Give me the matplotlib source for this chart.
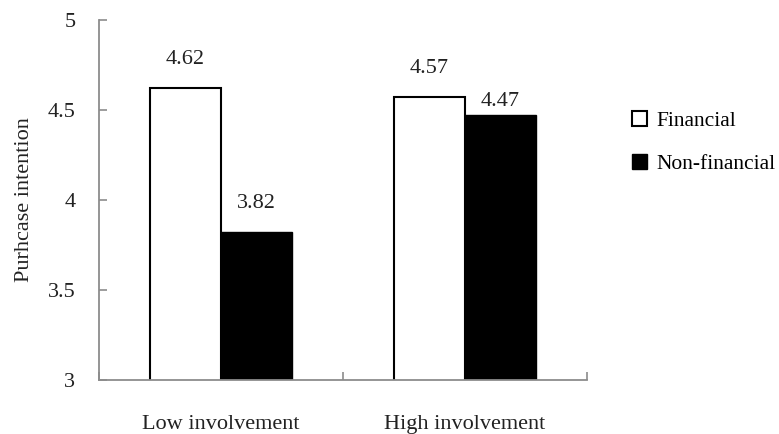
import numpy as np
import matplotlib
matplotlib.use("Agg")
import matplotlib.pyplot as plt
from matplotlib.patches import Patch

plt.rcParams['font.family'] = ['Liberation Serif', 'DejaVu Serif']

# data
groups = ['Low involvement', 'High involvement']
financial = [4.62, 4.57]
non_financial = [3.82, 4.47]
series_names = ['Financial', 'Non-financial']
yticks = [3, 3.5, 4, 4.5, 5]
ytick_labels = ['3', '3.5', '4', '4.5', '5']

fig = plt.figure(figsize=(7.79, 4.34), dpi=100)
ax = fig.add_axes([99 / 779, 54 / 434, 488 / 779, 360 / 434])

centers = np.arange(len(groups)) + 0.5
w = 0.29
bars_f = ax.bar(centers - w / 2, financial, w, color='white',
                edgecolor='black', linewidth=1.5, label=series_names[0])
bars_n = ax.bar(centers + w / 2, non_financial, w, color='black',
                edgecolor='black', linewidth=1.0, label=series_names[1])

ax.set_ylim(3, 5)
ax.set_xlim(0, 2)

# value labels above bars (the 4.47 one sits lower, next to the taller bar)
lab_off = [[20.5, 20.5], [20.5, 10]]
for i in range(len(groups)):
    for j, (b, v) in enumerate([(bars_f[i], financial[i]), (bars_n[i], non_financial[i])]):
        ax.annotate(f'{v:.2f}', (b.get_x() + b.get_width() / 2, v),
                    xytext=(0, lab_off[i][j]), textcoords='offset points',
                    ha='center', va='center', fontsize=16, color='#222222')

# axes styling
axis_col = '#8c8c8c'
for s in ['top', 'right']:
    ax.spines[s].set_visible(False)
for s in ['left', 'bottom']:
    ax.spines[s].set_color(axis_col)
    ax.spines[s].set_linewidth(1.3)

ax.set_yticks(yticks)
ax.set_yticklabels(ytick_labels, fontsize=16, color='#222222')
ax.tick_params(axis='y', direction='in', length=6, color=axis_col, width=1.2, pad=17)

ax.set_xticks(centers)
ax.set_xticklabels(groups, fontsize=16, color='#222222')
ax.tick_params(axis='x', which='major', length=0, pad=25)
ax.set_xticks([0, 1, 2], minor=True)
ax.tick_params(axis='x', which='minor', direction='in', length=6, color=axis_col, width=1.2)

ax.set_ylabel('Purhcase intention', fontsize=16, color='#222222')
ax.yaxis.set_label_coords(-0.133, 0.5)

handles = [Patch(facecolor='white', edgecolor='black', linewidth=1.5),
           Patch(facecolor='black', edgecolor='black')]
fig.legend(handles, series_names, loc='upper left',
           bbox_to_anchor=(632 / 779, 1 - 111 / 434), frameon=False,
           fontsize=15.5, handlelength=0.7, handleheight=0.7,
           handletextpad=0.45, labelspacing=1.08, borderpad=0, borderaxespad=0)

fig.savefig('out.png', dpi=100)
